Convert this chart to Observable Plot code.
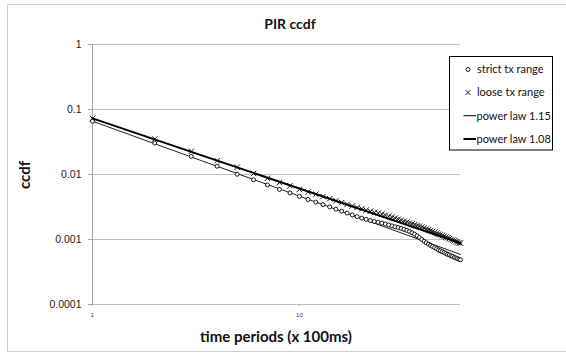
<!DOCTYPE html>
<html>
<head>
<meta charset="utf-8">
<script src="https://cdn.jsdelivr.net/npm/d3@7"></script>
<script src="https://cdn.jsdelivr.net/npm/@observablehq/plot@0.6"></script>
<style>
  html, body { margin: 0; padding: 0; background: #fff; }
</style>
</head>
<body>
<div id="chart"></div>
<script>
const periods = [1,2,3,4,5,6,7,8,9,10,11,12,13,14,15,16,17,18,19,20,21,22,23,24,25,26,27,28,29,30,31,32,33,34,35,36,37,38,39,40,41,42,43,44,45,46,47,48,49,50,51,52,53,54,55,56,57,58,59,60];
const strictCcdf = [0.066,0.0305,0.019,0.0134,0.0101,0.0083,0.0069,0.0059,0.0052,0.0046,
  0.00413,0.00376,0.00344,0.00317,0.00293,0.00273,0.00255,0.00239,0.00225,0.00213,
  0.00204,0.00196,0.00189,0.00184,0.00179,0.00173,0.00167,0.00162,0.00157,0.00153,
  0.00148,0.00143,0.00138,0.00133,0.00127,0.00121,0.00114,0.00107,0.00100,0.00094,
  0.00089,0.00085,0.00081,0.00078,0.00075,0.00072,0.00069,0.00067,0.00065,0.00063,
  0.00061,0.00059,0.00058,0.00056,0.00055,0.00053,0.00052,0.00051,0.000495,0.000488];
const looseCcdf = [0.073,0.0352,0.0227,0.0163,0.0129,0.0104,0.0087,0.0075,0.0067,0.0059,
  0.00540,0.00496,0.00458,0.00424,0.00395,0.00370,0.00348,0.00328,0.00311,0.00296,
  0.00283,0.00271,0.00260,0.00254,0.00246,0.00237,0.00228,0.00220,0.00212,0.00205,
  0.00198,0.00191,0.00185,0.00179,0.00174,0.00169,0.00164,0.00160,0.00155,0.00150,
  0.00145,0.00141,0.00137,0.00133,0.00129,0.00125,0.00121,0.00118,0.00115,0.00112,
  0.00109,0.00106,0.00103,0.00100,0.00098,0.00096,0.00093,0.00091,0.00089,0.00088];
const powerX = [1, 60];
const power115 = [0.066, 0.00059];
const power108 = [0.073, 0.00088];
const yTicks = [1, 0.1, 0.01, 0.001, 0.0001];
const xTicks = [1, 10];
const seriesNames = ["strict tx range", "loose tx range", "power law 1.15", "power law 1.08"];
const titleText = "PIR ccdf";
const xLabel = "time periods (x 100ms)";
const yLabel = "ccdf";

const strict = periods.map((p, i) => ({x: p, y: strictCcdf[i]}));
const loose = periods.map((p, i) => ({x: p, y: looseCcdf[i]}));
const line115 = powerX.map((p, i) => ({x: p, y: power115[i]}));
const line108 = powerX.map((p, i) => ({x: p, y: power108[i]}));

const W = 566, H = 354;
const svg = Plot.plot({
  width: W, height: H,
  marginLeft: 92, marginRight: 106, marginTop: 44, marginBottom: 50,
  style: {fontFamily: "'Liberation Sans', Arial, sans-serif", fontSize: "10.5px", background: "white", overflow: "visible"},
  x: {type: "log", domain: [1, 60]},
  y: {type: "log", domain: [0.0001, 1]},
  marks: [
    Plot.ruleY(yTicks, {stroke: "#c0c0c0", strokeWidth: 1}),
    Plot.ruleX([1], {stroke: "#a6a6a6", strokeWidth: 1}),
    Plot.axisY({ticks: yTicks, tickFormat: d => String(d), tickSize: 4, tickPadding: 7, stroke: "#a6a6a6", fill: "#222", fontSize: 10.5, label: null}),
    Plot.axisX({ticks: xTicks, tickFormat: d => String(d), tickSize: 2, tickPadding: 6, stroke: "#a6a6a6", fill: "#333", fontSize: 6, label: null}),
    Plot.line(line115, {x: "x", y: "y", stroke: "#222", strokeWidth: 1}),
    Plot.line(line108, {x: "x", y: "y", stroke: "#000", strokeWidth: 2}),
    Plot.dot(strict, {x: "x", y: "y", r: 2, stroke: "#000", fill: "white", strokeWidth: 0.9}),
    Plot.dot(loose, {x: "x", y: "y", symbol: "times", r: 2.6, stroke: "#000", strokeWidth: 0.9})
  ]
});

const s = d3.select(svg);
// outer chart border
s.insert("rect", ":first-child")
  .attr("x", 7.5).attr("y", 4.5).attr("width", 560).attr("height", 347)
  .attr("fill", "white").attr("stroke", "#d0d0d0");

const font = "Lato, 'Open Sans', sans-serif";
s.append("text").text(titleText)
  .attr("x", 290).attr("y", 29).attr("text-anchor", "middle")
  .attr("font-family", font).attr("font-weight", "bold").attr("font-size", 14).attr("fill", "#111");
s.append("text").text(xLabel)
  .attr("x", 276).attr("y", 342).attr("text-anchor", "middle")
  .attr("font-family", font).attr("font-weight", "bold").attr("font-size", 15).attr("fill", "#111");
s.append("text").text(yLabel)
  .attr("transform", "translate(30,175) rotate(-90)").attr("text-anchor", "middle")
  .attr("font-family", font).attr("font-weight", "bold").attr("font-size", 15).attr("fill", "#111");

// legend
const lg = s.append("g").attr("text-anchor", "start");
lg.append("rect").attr("x", 449.5).attr("y", 56.5).attr("width", 103).attr("height", 93.5)
  .attr("fill", "white").attr("stroke", "#000").attr("stroke-width", 1);
const rowY = [69.5, 92.5, 115.7, 139];
seriesNames.forEach((name, i) => {
  const y = rowY[i];
  if (i === 0) {
    lg.append("circle").attr("cx", 468).attr("cy", y).attr("r", 2).attr("fill", "white").attr("stroke", "#000").attr("stroke-width", 0.9);
  } else if (i === 1) {
    lg.append("path").attr("d", `M${465.6},${y-2.4}L${470.4},${y+2.4}M${465.6},${y+2.4}L${470.4},${y-2.4}`).attr("stroke", "#000").attr("stroke-width", 0.9);
  } else {
    lg.append("line").attr("x1", 463.5).attr("x2", 476).attr("y1", y).attr("y2", y)
      .attr("stroke", "#000").attr("stroke-width", i === 2 ? 1 : 2);
  }
  lg.append("text").text(name).attr("x", i < 2 ? 477 : 476.5).attr("y", y).attr("dy", "0.35em")
    .attr("text-anchor", "start")
    .attr("font-family", font).attr("font-size", 11).attr("fill", "#111");
});

document.getElementById("chart").appendChild(svg);
</script>
</body>
</html>
